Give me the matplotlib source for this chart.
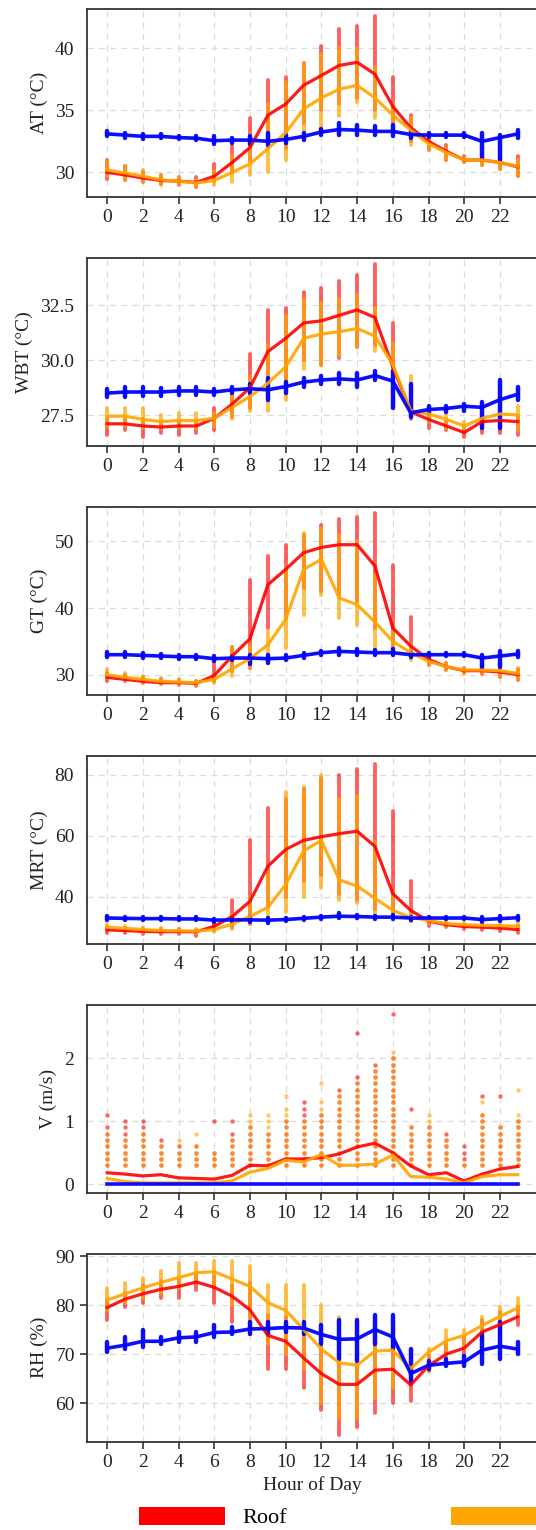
import numpy as np
import matplotlib
matplotlib.use("Agg")
import matplotlib.pyplot as plt
from matplotlib.patches import Patch

plt.rcParams['font.family'] = ['Liberation Serif', 'DejaVu Serif']

hours = list(range(24))
xticks = list(range(0, 23, 2))
# only the first legend label is visible in the (cropped) reference
series_labels = ["Roof", "", ""]
series_colors = ["#ff0000", "#ffa500", "#0000ff"]

# ---------------- AT ----------------
at_roof = [30.0,29.8,29.55,29.35,29.3,29.2,29.7,30.8,32.0,34.6,35.5,37.0,37.8,38.6,38.85,37.9,35.3,33.6,32.5,31.7,31.0,31.0,30.8,30.45]
at_ground = [30.2,29.95,29.7,29.4,29.3,29.15,29.35,30.0,30.7,31.9,33.2,35.1,36.0,36.7,37.0,36.0,34.6,33.4,32.3,31.6,31.0,31.0,30.8,30.5]
at_indoor = [33.1,33.0,32.9,32.9,32.8,32.75,32.55,32.6,32.6,32.5,32.65,32.9,33.25,33.45,33.4,33.3,33.3,33.05,33.0,33.0,33.0,32.5,32.8,33.1]
at_roof_lo = [29.5,29.4,29.2,29.1,29.0,28.8,29.3,30.0,31.0,32.0,32.0,34.0,35.0,35.5,36.0,35.0,33.5,32.5,31.8,31.0,30.8,30.6,30.3,29.7]
at_roof_hi = [31.0,30.5,30.0,29.8,29.6,29.6,30.7,32.1,34.4,37.4,37.7,38.8,40.2,41.5,41.8,42.6,37.7,34.6,32.8,32.2,31.3,31.4,31.3,31.3]
at_ground_lo = [29.7,29.4,29.2,29.0,29.0,28.9,29.0,29.2,29.8,30.0,31.0,32.7,33.5,34.5,35.7,34.4,33.5,32.2,31.8,31.0,30.8,30.6,30.3,29.7]
at_ground_hi = [30.9,30.5,30.2,29.8,29.6,29.4,30.1,31.3,33.0,35.5,37.3,38.7,39.5,40.0,40.0,38.5,35.5,34.4,32.7,32.0,31.2,31.3,31.2,31.0]
at_indoor_lo = [32.9,32.8,32.7,32.75,32.65,32.6,32.3,32.4,32.3,32.2,32.4,32.6,33.0,33.0,33.0,33.0,32.9,32.8,32.85,32.85,32.85,31.2,31.0,32.8]
at_indoor_hi = [33.3,33.2,33.1,33.05,32.95,32.9,32.9,32.8,32.9,33.2,33.0,33.2,33.5,34.0,33.8,33.7,33.8,33.3,33.15,33.15,33.15,33.2,33.0,33.4]

# ---------------- WBT ----------------
wbt_roof = [27.1,27.1,27.0,26.95,27.0,27.0,27.35,28.0,28.75,30.4,31.0,31.7,31.8,32.05,32.3,31.95,29.7,27.65,27.3,27.0,26.7,27.2,27.25,27.2]
wbt_ground = [27.45,27.45,27.3,27.2,27.25,27.25,27.35,27.85,28.35,28.95,29.7,31.0,31.2,31.3,31.45,31.1,29.8,27.7,27.55,27.3,27.0,27.35,27.55,27.5]
wbt_indoor = [28.5,28.55,28.55,28.55,28.6,28.6,28.55,28.65,28.7,28.65,28.8,29.0,29.1,29.15,29.1,29.3,29.05,27.6,27.75,27.8,27.9,27.85,28.2,28.45]
wbt_roof_lo = [26.6,26.8,26.5,26.7,26.6,26.7,26.8,27.4,27.8,28.5,29.0,30.0,29.8,30.1,30.6,30.7,28.0,27.3,26.9,26.8,26.5,26.7,26.7,26.6]
wbt_roof_hi = [27.3,27.3,27.3,27.1,27.2,27.2,27.8,28.4,30.3,32.3,32.4,33.1,33.3,33.6,33.9,34.4,31.7,28.0,27.6,27.2,26.9,27.4,27.4,27.4]
wbt_ground_lo = [27.0,27.0,26.9,26.9,26.9,26.9,27.0,27.3,27.7,27.7,28.2,29.6,29.8,30.2,30.6,30.4,28.3,27.4,27.2,26.9,26.8,26.9,27.0,26.8]
wbt_ground_hi = [27.8,27.8,27.8,27.5,27.6,27.6,27.6,28.4,29.3,30.7,32.0,32.8,32.6,32.8,33.0,32.4,30.8,29.3,27.8,27.6,27.2,27.6,27.8,27.9]
wbt_indoor_lo = [28.3,28.3,28.35,28.35,28.4,28.4,28.4,28.5,28.5,28.2,28.5,28.8,28.9,28.9,28.8,29.1,27.8,27.4,27.6,27.65,27.7,26.9,26.9,28.2]
wbt_indoor_hi = [28.7,28.8,28.8,28.75,28.8,28.8,28.7,28.8,28.9,29.2,29.0,29.2,29.3,29.4,29.4,29.5,29.5,28.9,27.9,27.9,28.0,28.1,29.1,28.8]

# ---------------- GT ----------------
gt_roof = [29.6,29.3,29.0,28.8,28.8,28.7,29.9,32.8,35.4,43.5,45.8,48.3,49.1,49.5,49.5,46.3,37.0,34.3,32.3,31.2,30.6,30.6,30.4,30.0]
gt_ground = [30.0,29.6,29.3,29.0,28.9,28.8,29.3,30.9,32.4,34.5,38.3,45.8,47.3,41.5,40.5,37.9,35.0,33.3,32.0,31.2,30.7,30.7,30.6,30.2]
gt_indoor = [33.0,33.0,32.9,32.8,32.7,32.7,32.4,32.5,32.5,32.4,32.5,32.9,33.3,33.5,33.4,33.3,33.3,33.0,33.0,33.0,33.0,32.5,32.8,33.1]
gt_roof_lo = [29.1,29.0,28.7,28.6,28.5,28.3,29.0,30.5,31.0,37.0,38.5,43.0,42.5,42.0,41.0,37.0,33.5,32.5,31.5,30.7,30.3,30.1,29.7,29.2]
gt_roof_hi = [30.3,30.0,29.6,29.3,29.2,29.0,32.0,34.2,44.2,47.8,49.5,51.0,52.5,53.3,53.7,54.2,46.5,38.7,33.3,31.8,31.0,31.5,31.3,30.8]
gt_ground_lo = [29.5,29.2,28.8,28.6,28.6,28.5,28.8,29.8,31.0,32.5,34.0,39.0,42.0,38.5,37.5,33.5,33.0,32.2,31.4,30.7,30.3,30.2,29.8,29.3]
gt_ground_hi = [30.8,30.2,29.8,29.5,29.3,29.1,29.8,34.0,34.3,36.5,46.0,51.2,52.0,51.0,50.0,45.0,36.5,34.5,32.7,31.7,31.0,31.0,31.0,31.0]
gt_indoor_lo = [32.7,32.6,32.5,32.5,32.4,32.4,32.0,32.2,31.6,31.8,32.2,32.5,33.0,33.0,33.0,33.0,32.9,32.7,32.7,32.8,32.8,31.0,31.2,32.7]
gt_indoor_hi = [33.4,33.4,33.3,33.1,33.0,33.0,32.8,32.8,33.0,33.0,32.9,33.3,33.6,34.0,33.8,33.7,33.8,33.3,33.2,33.2,33.2,33.0,33.5,33.5]

# ---------------- MRT ----------------
mrt_roof = [29.1,28.9,28.6,28.5,28.5,28.5,30.3,33.5,38.5,50.0,55.5,58.5,59.7,60.7,61.5,56.5,41.0,35.5,32.0,30.8,30.2,30.0,29.7,29.2]
mrt_ground = [30.0,29.6,29.2,28.9,28.8,28.7,29.2,31.0,33.5,36.5,44.0,55.0,58.5,45.5,43.5,39.5,35.5,33.2,32.2,31.2,30.8,30.6,30.5,30.3]
mrt_indoor = [33.0,32.9,32.8,32.8,32.7,32.7,32.3,32.4,32.4,32.3,32.5,32.9,33.3,33.6,33.5,33.3,33.3,33.0,33.0,33.0,33.0,32.5,32.8,33.1]
mrt_roof_lo = [28.0,28.0,27.8,27.7,27.8,27.2,29.0,30.0,31.0,37.0,40.0,45.0,47.0,41.0,39.0,36.0,34.0,32.0,30.5,30.0,29.5,29.0,28.8,28.2]
mrt_roof_hi = [30.0,29.8,29.5,29.3,29.3,29.0,31.5,39.0,58.5,69.0,72.0,75.5,79.0,80.0,82.0,83.5,68.0,45.0,33.0,31.5,30.8,31.0,30.5,30.5]
mrt_ground_lo = [29.5,29.0,28.5,28.3,28.3,28.2,28.5,29.5,31.0,33.0,35.0,40.0,43.0,39.0,38.0,34.0,33.5,32.5,31.5,30.5,30.0,30.0,29.8,29.5]
mrt_ground_hi = [31.0,30.5,30.0,29.7,29.5,29.3,30.0,34.0,40.0,48.0,74.5,76.0,80.0,72.0,73.0,58.0,40.0,35.0,33.0,32.0,31.5,31.5,31.5,31.5]
mrt_indoor_lo = [32.4,32.3,32.2,32.3,32.2,32.2,31.8,31.9,31.6,31.5,31.9,32.3,32.8,33.0,32.9,32.8,32.7,32.5,32.6,32.6,32.6,31.8,32.0,32.4]
mrt_indoor_hi = [33.6,33.5,33.4,33.3,33.2,33.2,32.8,32.9,33.2,33.0,33.1,33.5,33.8,34.5,34.1,33.8,33.9,33.5,33.4,33.4,33.4,33.2,33.6,33.8]

# ---------------- V ----------------
v_roof = [0.18,0.16,0.13,0.15,0.10,0.09,0.08,0.14,0.30,0.29,0.40,0.40,0.42,0.48,0.59,0.65,0.50,0.29,0.15,0.18,0.05,0.16,0.24,0.28]
v_ground = [0.09,0.04,0.02,0.02,0.02,0.02,0.02,0.05,0.19,0.25,0.38,0.35,0.47,0.30,0.30,0.32,0.46,0.12,0.11,0.08,0.02,0.12,0.15,0.15]
v_indoor = [0.0]*24
v_min_reading = 0.3
v_step = 0.1
v_roof_top = [0.9,1.0,1.0,0.7,0.6,0.6,0.5,0.8,0.9,0.8,1.0,1.3,1.1,1.5,1.7,1.9,2.0,0.9,0.9,0.8,0.6,1.1,0.9,1.0]
v_ground_top = [0.8,0.7,0.8,0.6,0.7,0.6,0.5,0.7,1.1,1.1,1.2,1.0,1.3,1.4,1.6,1.8,2.1,0.9,1.1,0.7,0.3,1.1,0.9,1.1]
v_roof_out_h = [0, 6, 7, 14, 16, 17, 21, 22]
v_roof_out_v = [1.1, 1.0, 1.0, 2.4, 2.7, 1.2, 1.4, 1.4]
v_ground_out_h = [5, 10, 12, 21, 23]
v_ground_out_v = [0.8, 1.4, 1.6, 1.3, 1.5]

# ---------------- RH ----------------
rh_roof = [79.5,81.2,82.3,83.2,83.8,84.7,83.6,81.8,79.0,73.8,72.6,69.2,66.0,63.8,63.8,66.7,66.9,63.7,67.6,70.0,71.2,74.5,76.0,77.6]
rh_ground = [81.0,82.3,83.5,84.6,85.6,86.6,86.8,85.3,83.8,80.5,78.9,75.0,71.0,68.2,67.7,70.6,70.8,67.0,70.4,72.7,73.8,75.8,77.7,79.4]
rh_indoor = [71.2,71.8,72.6,72.6,73.3,73.5,74.4,74.5,75.1,75.2,75.4,75.3,74.0,73.0,73.1,75.0,73.5,66.0,67.7,68.1,68.4,70.8,71.6,71.0]
rh_roof_lo = [77.0,79.5,80.5,81.5,81.5,83.0,80.5,76.5,74.0,67.0,67.0,63.0,58.5,53.5,55.0,58.0,60.0,60.5,66.5,68.0,70.0,73.0,74.0,76.0]
rh_roof_hi = [81.0,82.5,84.0,85.0,85.5,86.5,86.0,84.0,84.5,78.0,77.5,75.0,72.0,70.0,69.5,72.0,73.0,66.5,69.5,72.0,73.5,77.0,78.5,79.5]
rh_ground_lo = [79.0,80.5,81.5,82.5,83.5,84.5,84.0,80.0,76.0,72.0,70.0,67.0,60.0,57.0,57.0,61.0,63.0,64.0,68.0,69.0,71.0,74.0,76.0,77.5]
rh_ground_hi = [83.5,84.5,85.5,87.0,88.5,88.5,89.0,89.0,88.0,84.0,84.0,84.0,80.0,77.5,74.0,76.0,76.0,71.0,71.0,75.0,75.0,77.5,79.5,81.5]
rh_indoor_lo = [70.5,71.0,71.5,72.0,72.5,72.5,73.5,74.0,74.0,74.0,74.5,74.0,72.0,69.0,68.5,72.0,71.0,64.0,67.0,67.5,67.5,68.0,69.0,70.0]
rh_indoor_hi = [72.5,73.5,75.0,73.5,74.5,74.5,76.0,75.5,76.5,76.5,76.5,76.5,76.0,77.0,77.0,78.0,78.0,71.0,68.5,69.0,69.5,74.0,76.5,72.5]

panels = [
    dict(ylabel="AT (°C)", lines=(at_roof, at_ground, at_indoor),
         ranges=((at_roof_lo, at_roof_hi), (at_ground_lo, at_ground_hi), (at_indoor_lo, at_indoor_hi)),
         ylim=(28.05, 43.16), yticks=[30, 35, 40], fmt="{:.0f}"),
    dict(ylabel="WBT (°C)", lines=(wbt_roof, wbt_ground, wbt_indoor),
         ranges=((wbt_roof_lo, wbt_roof_hi), (wbt_ground_lo, wbt_ground_hi), (wbt_indoor_lo, wbt_indoor_hi)),
         ylim=(26.1, 34.68), yticks=[27.5, 30.0, 32.5], fmt="{:.1f}"),
    dict(ylabel="GT (°C)", lines=(gt_roof, gt_ground, gt_indoor),
         ranges=((gt_roof_lo, gt_roof_hi), (gt_ground_lo, gt_ground_hi), (gt_indoor_lo, gt_indoor_hi)),
         ylim=(27.0, 55.2), yticks=[30, 40, 50], fmt="{:.0f}"),
    dict(ylabel="MRT (°C)", lines=(mrt_roof, mrt_ground, mrt_indoor),
         ranges=((mrt_roof_lo, mrt_roof_hi), (mrt_ground_lo, mrt_ground_hi), (mrt_indoor_lo, mrt_indoor_hi)),
         ylim=(24.57, 86.3), yticks=[40, 60, 80], fmt="{:.0f}"),
    dict(ylabel="V (m/s)", lines=(v_roof, v_ground, v_indoor), ranges=None,
         ylim=(-0.136, 2.85), yticks=[0, 1, 2], fmt="{:.0f}"),
    dict(ylabel="RH (%)", lines=(rh_roof, rh_ground, rh_indoor),
         ranges=((rh_roof_lo, rh_roof_hi), (rh_ground_lo, rh_ground_hi), (rh_indoor_lo, rh_indoor_hi)),
         ylim=(52.1, 90.48), yticks=[60, 70, 80, 90], fmt="{:.0f}"),
]

W, H = 536, 1530
fig = plt.figure(figsize=(W / 100, H / 100), dpi=100)
ax_left_px, ax_right_px = 86.7, 538.3
ax_h_px = 188.0
first_bottom_px = 196.7
period_px = 249.0

scat_alpha = [0.62, 0.72, 0.95]
scat_lw = [2.8, 2.8, 3.2]
line_lw = [2.3, 2.3, 2.6]
text_color = "#222222"

for i, p in enumerate(panels):
    bottom_px = first_bottom_px + i * period_px
    ax = fig.add_axes([ax_left_px / W, 1 - bottom_px / H,
                       (ax_right_px - ax_left_px) / W, ax_h_px / H])
    ax.set_xlim(-1.15, 24.15)
    ax.set_ylim(*p["ylim"])
    ax.grid(True, color="#dcdcdc", linestyle=(0, (5, 4)), linewidth=0.9)
    ax.set_axisbelow(True)

    if p["ranges"] is not None:
        for k, (lo, hi) in enumerate(p["ranges"]):
            ax.vlines(hours, lo, hi, colors=series_colors[k], alpha=scat_alpha[k],
                      linewidth=scat_lw[k], zorder=2, capstyle="round")
    else:
        tops = (v_roof_top, v_ground_top)
        outs = ((v_roof_out_h, v_roof_out_v), (v_ground_out_h, v_ground_out_v))
        for k in range(2):
            xs, ys = [], []
            for h, top in zip(hours, tops[k]):
                levels = np.round(np.arange(v_min_reading, top + 1e-6, v_step), 1)
                xs.extend([h] * len(levels))
                ys.extend(levels)
            xs.extend(outs[k][0])
            ys.extend(outs[k][1])
            ax.scatter(xs, ys, s=10, color=series_colors[k], alpha=0.6,
                       linewidths=0, zorder=2)

    for k, vals in enumerate(p["lines"]):
        ax.plot(hours, vals, color=series_colors[k], alpha=0.9 if k < 2 else 0.95,
                linewidth=line_lw[k], zorder=3 + k, solid_joinstyle="round")

    ax.set_xticks(xticks)
    ax.set_xticklabels([str(t) for t in xticks])
    ax.set_yticks(p["yticks"])
    ax.set_yticklabels([p["fmt"].format(t) for t in p["yticks"]])
    ax.tick_params(axis="x", length=5, width=1.1, color="#222222", pad=3.5,
                   labelsize=14, labelcolor=text_color)
    if i == len(panels) - 1:
        ax.tick_params(axis="y", length=5, width=1.1, color="#222222", pad=3.5,
                       labelsize=14, labelcolor=text_color)
    else:
        ax.tick_params(axis="y", length=0, pad=9, labelsize=14, labelcolor=text_color)
    ax.set_ylabel(p["ylabel"], fontsize=14, color=text_color, labelpad=5)
    for s in ax.spines.values():
        s.set_color("#333333")
        s.set_linewidth(1.3)
    if i == len(panels) - 1:
        ax.set_xlabel("Hour of Day", fontsize=14, color=text_color, labelpad=4)

handles = [Patch(facecolor=c, edgecolor="none") for c in series_colors]
fig.legend(handles, series_labels, loc="center left",
           bbox_to_anchor=(139 / W, 1 - 1517.5 / H), ncol=3, frameon=False,
           fontsize=16, handlelength=3.87, handleheight=0.86, handletextpad=0.77,
           columnspacing=7.4, borderpad=0, borderaxespad=0)

fig.savefig("out.png", dpi=100)
